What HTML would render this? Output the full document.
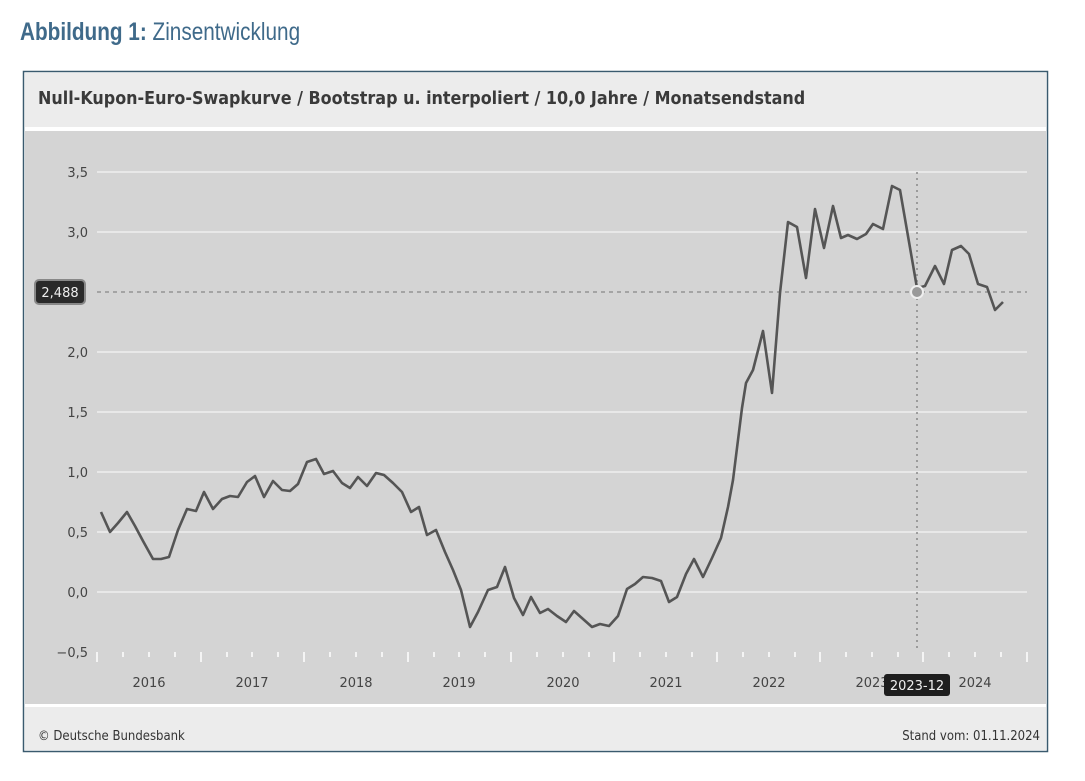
<!DOCTYPE html>
<html><head><meta charset="utf-8"><style>
body{margin:0;width:1085px;height:781px;background:#fff;overflow:hidden;font-family:"Liberation Sans","DejaVu Sans",sans-serif;}
</style></head><body>
<svg width="1085" height="781" xmlns="http://www.w3.org/2000/svg" style="position:absolute;left:0;top:0">
<g transform="translate(20,40) scale(0.83,1)" font-size="25" fill="#3f6a8a"><text x="0" y="0"><tspan font-weight="bold">Abbildung 1:</tspan> Zinsentwicklung</text></g>
<rect x="23.5" y="71.5" width="1024" height="680" fill="#fff" stroke="#3a5a6e" stroke-width="1.5"/>
<rect x="25" y="73" width="1021" height="54" fill="#ececec"/>
<g transform="translate(38,104) scale(1.015,1)"><text x="0" y="0" font-size="17.5" font-weight="bold" fill="#3a3a3a" font-family="DejaVu Sans Condensed, DejaVu Sans, sans-serif">Null-Kupon-Euro-Swapkurve / Bootstrap u. interpoliert / 10,0 Jahre / Monatsendstand</text></g>
<rect x="25" y="131" width="1021" height="573" fill="#d4d4d4"/>
<rect x="25" y="707" width="1021" height="43" fill="#ececec"/>
<g stroke="#e8e8e8" stroke-width="2">
<line x1="97" x2="1027" y1="172" y2="172"/><line x1="97" x2="1027" y1="232" y2="232"/>
<line x1="97" x2="1027" y1="352" y2="352"/><line x1="97" x2="1027" y1="412" y2="412"/>
<line x1="97" x2="1027" y1="472" y2="472"/><line x1="97" x2="1027" y1="532" y2="532"/>
<line x1="97" x2="1027" y1="592" y2="592"/>
</g>
<g font-size="13" fill="#444" text-anchor="end" font-family="DejaVu Sans, sans-serif">
<text x="88" y="177">3,5</text><text x="88" y="237">3,0</text><text x="88" y="357">2,0</text>
<text x="88" y="417">1,5</text><text x="88" y="477">1,0</text><text x="88" y="537">0,5</text>
<text x="88" y="597">0,0</text><text x="88" y="657">−0,5</text>
</g>
<g stroke="#f4f4f4" stroke-width="2">
<path d="M97 652v10M201 652v10M304 652v10M408 652v10M511 652v10M614 652v10M717 652v10M820 652v10M923 652v10M1027 652v10"/>
<path d="M123 652v5M149 652v5M175 652v5M227 652v5M252 652v5M278 652v5M330 652v5M356 652v5M382 652v5M434 652v5M459 652v5M485 652v5M537 652v5M563 652v5M589 652v5M640 652v5M666 652v5M692 652v5M743 652v5M769 652v5M795 652v5M846 652v5M872 652v5M898 652v5M949 652v5M975 652v5M1001 652v5"/>
</g>
<g font-size="13" fill="#444" text-anchor="middle" font-family="DejaVu Sans, sans-serif">
<text x="149" y="687">2016</text><text x="252" y="687">2017</text><text x="356" y="687">2018</text>
<text x="459" y="687">2019</text><text x="563" y="687">2020</text><text x="666" y="687">2021</text>
<text x="769" y="687">2022</text><text x="872" y="687">2023</text><text x="975" y="687">2024</text>
</g>
<line x1="97" x2="1027" y1="292" y2="292" stroke="#888" stroke-dasharray="4,4" stroke-width="1.2"/>
<line x1="917" x2="917" y1="172" y2="652" stroke="#888" stroke-dasharray="2,4" stroke-width="1.5"/>
<polyline fill="none" stroke="#555" stroke-width="2.6" stroke-linejoin="round" points="101,512 110,532 118,523 127,512 135,526 143,541 153,559 161,559 169,557 178,530 187,509 196,511 204,492 213,509 222,499 230,496 238,497 247,482 255,476 264,497 273,481 282,490 290,491 298,484 307,462 316,459 324,474 333,471 342,483 350,488 358,477 367,486 376,473 384,475 393,483 402,492 411,512 419,507 427,535 436,530 445,552 453,570 461,590 470,627 478,612 488,590 497,587 505,567 514,598 523,615 531,597 540,613 548,609 557,616 566,622 574,611 583,619 592,627 600,624 609,626 618,616 627,589 635,584 643,577 652,578 661,581 669,602 677,597 686,574 694,559 703,577 712,558 721,538 728,507 733,480 742,408 746,383 753,370 763,331 772,393 780,293 788,222 797,227 806,278 815,209 824,248 833,206 841,238 848,235 857,239 866,234 873,224 883,229 892,186 900,190 917,288 925,286 935,266 944,284 952,250 961,246 969,254 978,284 987,287 995,310 1003,302"/>
<circle cx="917" cy="292" r="6" fill="#999" stroke="#eee" stroke-width="2"/>
<rect x="35" y="280" width="50" height="24" rx="4" fill="#2a2a2a" stroke="#888" stroke-width="2"/>
<text x="60" y="297" font-size="13" fill="#eee" text-anchor="middle" font-family="DejaVu Sans, sans-serif">2,488</text>
<rect x="884" y="674" width="66" height="22" rx="3" fill="#1e1e1e"/>
<text x="917" y="690" font-size="13" fill="#eee" text-anchor="middle" font-family="DejaVu Sans, sans-serif">2023-12</text>
<text x="38" y="740" font-size="13" fill="#333" font-family="DejaVu Sans Condensed, DejaVu Sans, sans-serif">© Deutsche Bundesbank</text>
<text x="1040" y="740" font-size="13" fill="#333" text-anchor="end" font-family="DejaVu Sans Condensed, DejaVu Sans, sans-serif">Stand vom: 01.11.2024</text>
</svg>
</body></html>
